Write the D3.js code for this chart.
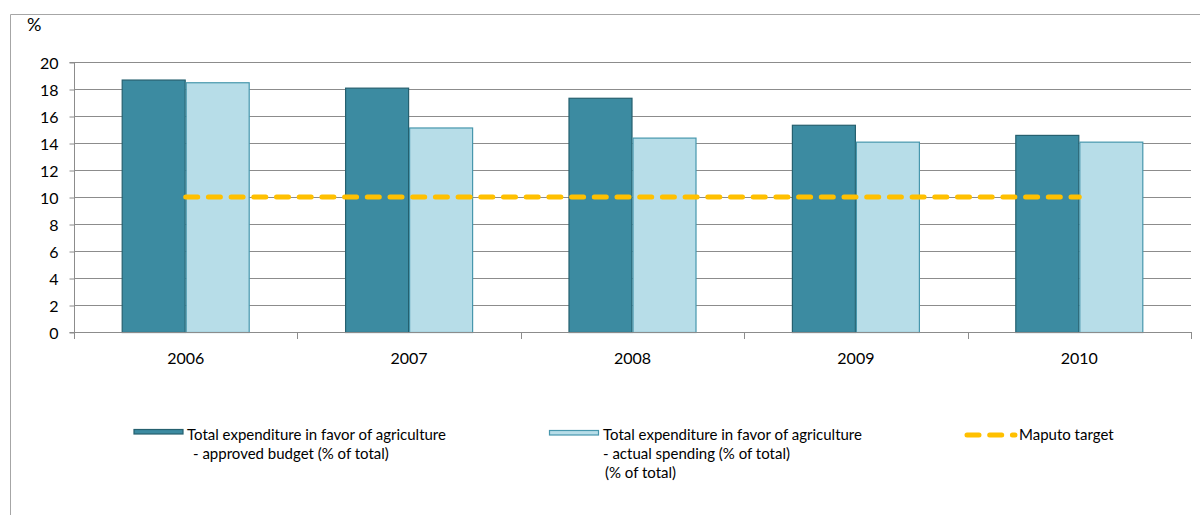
<!DOCTYPE html>
<html>
<head>
<meta charset="utf-8">
<script src="https://cdn.jsdelivr.net/npm/d3@7/dist/d3.min.js"></script>
<style>
  html, body { margin: 0; padding: 0; background: #fff; }
  svg { display: block; font-family: Lato, "Open Sans", sans-serif; }
</style>
</head>
<body>
<svg id="chart" width="1200" height="515"></svg>
<script>
// Agricultural expenditure as share of total, by year
const years = ["2006", "2007", "2008", "2009", "2010"];
const approvedBudget = [18.7, 18.1, 17.35, 15.35, 14.6];
const actualSpending = [18.5, 15.15, 14.4, 14.1, 14.1];
const maputoTarget = [10, 10, 10, 10, 10];
const yTicks = [0, 2, 4, 6, 8, 10, 12, 14, 16, 18, 20];
const seriesNames = ["approved", "actual"];

const FONT = "Lato, 'Open Sans', sans-serif";
const svg = d3.select("#chart");
const W = 1200, H = 515;

const x0 = 74, x1 = 1191, yTop = 62, yBottom = 332;

// outer chart frame (top and left edges)
svg.append("path")
  .attr("d", `M10.5,${H} V14.5 H${W}`)
  .attr("fill", "none")
  .attr("stroke", "#a6a6a6")
  .attr("stroke-width", 1);

const x = d3.scaleBand().domain(years).range([x0, x1])
  .paddingInner(0.427).paddingOuter(0.2135);
const xs = d3.scaleBand().domain(seriesNames).range([0, x.bandwidth()]);
const y = d3.scaleLinear().domain([0, 20]).range([yBottom, yTop]);

// horizontal gridlines
svg.append("g").selectAll("line")
  .data(yTicks.filter(d => d > 0))
  .join("line")
  .attr("x1", x0).attr("x2", x1)
  .attr("y1", d => Math.round(y(d)) + 0.5)
  .attr("y2", d => Math.round(y(d)) + 0.5)
  .attr("stroke", "#8c8c8c").attr("stroke-width", 1);

// bars
const groups = svg.append("g").selectAll("g")
  .data(years.map((yr, i) => ({ yr, vals: [approvedBudget[i], actualSpending[i]] })))
  .join("g")
  .attr("transform", d => `translate(${x(d.yr)},0)`);

const fills = { approved: "#3c8ba1", actual: "#b7dde8" };
const strokes = { approved: "#25606f", actual: "#4797ad" };

groups.selectAll("rect")
  .data(d => seriesNames.map((s, j) => ({ s, v: d.vals[j] })))
  .join("rect")
  .attr("x", d => xs(d.s) + 0.5)
  .attr("width", xs.bandwidth() - 1)
  .attr("y", d => y(d.v) + 0.5)
  .attr("height", d => yBottom - y(d.v))
  .attr("fill", d => fills[d.s])
  .attr("stroke", d => strokes[d.s])
  .attr("stroke-width", 1.2);

// y axis
const yAxis = d3.axisLeft(y).tickValues(yTicks).tickSize(5).tickPadding(11);
const gy = svg.append("g").attr("transform", `translate(${x0 + 0.5},0.5)`).call(yAxis)
  .attr("font-family", FONT).attr("font-size", 16);
gy.select(".domain").attr("stroke", "#8c8c8c").attr("d", `M-5,${yBottom}H0V${yTop}H-5`);
gy.selectAll(".tick line").attr("stroke", "#8c8c8c");
gy.selectAll(".tick text").attr("fill", "#000").attr("dy", "0.36em");

// x axis baseline and category boundary ticks
svg.append("line")
  .attr("x1", x0).attr("x2", x1)
  .attr("y1", yBottom + 0.5).attr("y2", yBottom + 0.5)
  .attr("stroke", "#8c8c8c");
const bounds = d3.range(years.length + 1).map(i => x0 + i * x.step());
svg.append("g").selectAll("line").data(bounds).join("line")
  .attr("x1", d => Math.round(d) + 0.5).attr("x2", d => Math.round(d) + 0.5)
  .attr("y1", yBottom).attr("y2", yBottom + 7)
  .attr("stroke", "#8c8c8c");
svg.append("g").attr("font-family", FONT).attr("font-size", 16)
  .selectAll("text").data(years).join("text")
  .attr("x", d => x(d) + x.bandwidth() / 2)
  .attr("y", 364)
  .attr("text-anchor", "middle")
  .text(d => d);

// y unit label
svg.append("text").attr("x", 27).attr("y", 31)
  .attr("font-family", FONT).attr("font-size", 18).text("%");

// Maputo target line across group centres
const line = d3.line()
  .x((d, i) => x(years[i]) + x.bandwidth() / 2)
  .y(d => y(d));
svg.append("path")
  .datum(maputoTarget)
  .attr("d", line)
  .attr("fill", "none")
  .attr("stroke", "#ffc000")
  .attr("stroke-width", 5)
  .attr("stroke-linecap", "round")
  .attr("stroke-dasharray", "12,10.7");

// legend
const lg = svg.append("g").attr("font-family", FONT).attr("font-size", 15).attr("fill", "#000");
lg.append("rect").attr("x", 134).attr("y", 429.5).attr("width", 49).attr("height", 4.5)
  .attr("fill", fills.approved).attr("stroke", strokes.approved).attr("stroke-width", 1.2);
lg.append("text").attr("x", 187).attr("y", 440).text("Total expenditure in favor of agriculture");
lg.append("text").attr("x", 193).attr("y", 459).text("- approved budget (% of total)");

lg.append("rect").attr("x", 549.5).attr("y", 430.5).attr("width", 49).attr("height", 4.5)
  .attr("fill", fills.actual).attr("stroke", strokes.actual).attr("stroke-width", 1.2);
lg.append("text").attr("x", 603).attr("y", 440).text("Total expenditure in favor of agriculture");
lg.append("text").attr("x", 603).attr("y", 459).text("- actual spending (% of total)");
lg.append("text").attr("x", 605).attr("y", 478).text("(% of total)");

lg.append("line").attr("x1", 967).attr("x2", 1015).attr("y1", 435).attr("y2", 435)
  .attr("stroke", "#ffc000").attr("stroke-width", 5)
  .attr("stroke-linecap", "round").attr("stroke-dasharray", "12,10.7");
lg.append("text").attr("x", 1019).attr("y", 440).text("Maputo target");
</script>
</body>
</html>
